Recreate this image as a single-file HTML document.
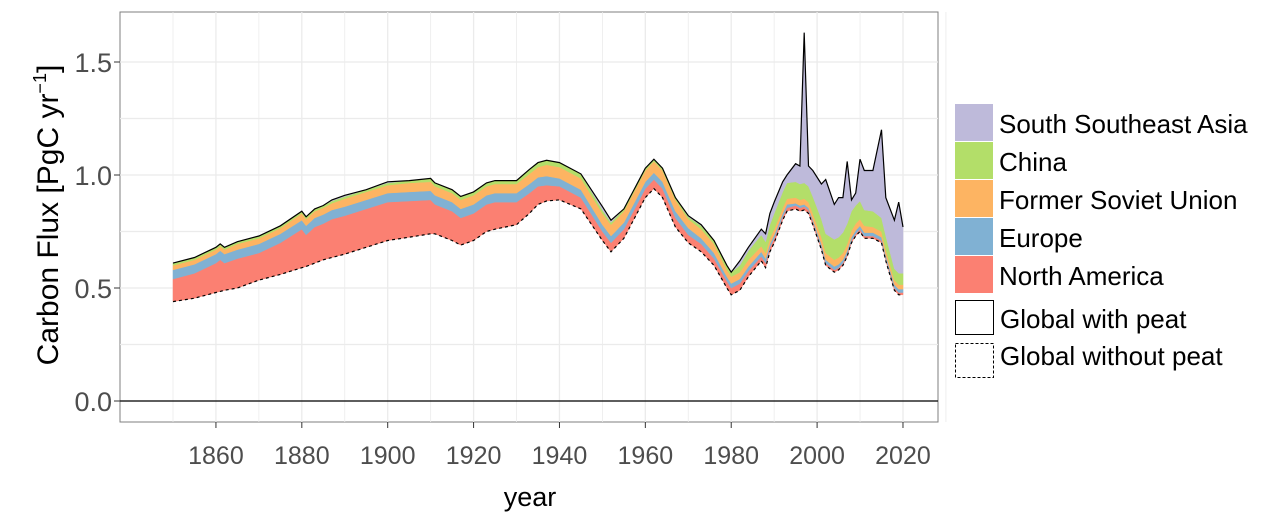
<!DOCTYPE html>
<html><head><meta charset="utf-8"><style>
body{margin:0;background:#fff;}
svg{display:block;font-family:"Liberation Sans",sans-serif;}
</style></head><body>
<svg id="chart" width="1285" height="525">
<rect x="120" y="12" width="818" height="410" fill="#fff" stroke="#7f7f7f"/>
<g id="grid"></g><g id="areas"></g><g id="lines"></g><g id="axes"></g>
<text x="530" y="506" font-size="27" text-anchor="middle" fill="#000">year</text>
<text transform="translate(58,215) rotate(-90)" font-size="30" text-anchor="middle" fill="#000">Carbon Flux [PgC yr<tspan dy="-12" font-size="18">−1</tspan><tspan dy="12">]</tspan></text>
<g id="legend"></g>
</svg>
<script>
const years=[1850,1855,1860,1861,1862,1865,1870,1875,1880,1881,1883,1885,1887,1890,1895,1900,1905,1910,1911,1915,1917,1920,1923,1925,1930,1933,1935,1937,1940,1945,1950,1952,1955,1960,1962,1964,1967,1970,1973,1976,1979,1980,1982,1984,1987,1988,1989,1990,1992,1993,1995,1996,1997,1998,1999,2001,2002,2004,2005,2006,2007,2008,2009,2010,2011,2013,2015,2016,2018,2019,2020];
const globalNoPeat=[.44,.455,.48,.485,.49,.50,.535,.56,.59,.595,.61,.625,.635,.65,.68,.71,.725,.74,.74,.71,.69,.71,.75,.76,.78,.83,.87,.885,.89,.85,.71,.66,.72,.90,.94,.90,.77,.70,.66,.60,.50,.47,.49,.55,.62,.59,.66,.70,.80,.84,.85,.84,.845,.83,.78,.67,.60,.57,.58,.60,.64,.70,.73,.75,.72,.72,.70,.62,.49,.47,.47];
const northAmerica=[.10,.11,.13,.14,.12,.13,.12,.14,.17,.14,.16,.16,.17,.17,.17,.17,.16,.15,.13,.13,.12,.12,.12,.12,.10,.09,.08,.07,.06,.05,.04,.04,.04,.04,.04,.04,.04,.035,.035,.03,.03,.03,.03,.025,.02,.02,.02,.02,.015,.015,.015,.015,.015,.015,.015,.01,.01,.01,.01,.01,.01,.01,.01,.01,.01,.01,.01,.01,.01,.01,.01];
const europe=[.04,.04,.04,.04,.04,.04,.04,.04,.04,.04,.04,.04,.04,.04,.04,.04,.04,.04,.04,.04,.04,.04,.04,.04,.04,.04,.04,.04,.035,.035,.03,.03,.03,.03,.03,.03,.03,.03,.025,.025,.02,.02,.02,.02,.02,.02,.015,.015,.015,.015,.01,.01,.01,.01,.01,.015,.015,.015,.015,.015,.015,.015,.015,.015,.015,.015,.015,.015,.015,.015,.015];
const formerSovietUnion=[.02,.02,.02,.02,.02,.025,.025,.025,.03,.03,.03,.03,.03,.035,.035,.035,.04,.04,.04,.04,.04,.04,.04,.04,.04,.045,.045,.05,.05,.05,.05,.05,.05,.05,.05,.05,.05,.04,.04,.04,.03,.03,.03,.03,.025,.025,.025,.025,.025,.025,.025,.025,.025,.025,.025,.03,.03,.03,.03,.03,.03,.03,.03,.03,.03,.025,.025,.025,.02,.02,.02];
const china=[.01,.01,.01,.01,.01,.01,.01,.01,.01,.01,.01,.01,.01,.01,.01,.01,.01,.015,.015,.015,.015,.015,.015,.015,.015,.02,.02,.02,.02,.02,.015,.01,.01,.01,.01,.01,.01,.01,.015,.015,.02,.02,.03,.04,.05,.05,.06,.07,.07,.07,.07,.07,.07,.07,.075,.08,.085,.09,.09,.09,.09,.085,.08,.08,.07,.07,.06,.06,.05,.05,.05];
const globalWithPeat=[.60,.62,.67,.69,.66,.70,.71,.75,.83,.79,.85,.86,.89,.91,.93,.97,.97,.975,.93,.91,.88,.90,.94,.93,.95,1.0,1.03,1.045,1.04,.99,.86,.80,.84,1.02,1.055,1.03,.90,.82,.78,.70,.60,.57,.62,.68,.76,.74,.83,.88,.97,1.00,1.05,1.04,1.63,1.04,1.02,.96,.98,.87,.90,.90,1.06,.89,.92,1.07,1.02,1.02,1.20,.90,.80,.88,.77];
const xTicks=[1860,1880,1900,1920,1940,1960,1980,2000,2020];
const yTicks=[0,0.5,1.0,1.5];
const yTickLabels=["0.0","0.5","1.0","1.5"];
const legendLabels=["South Southeast Asia","China","Former Soviet Union","Europe","North America"];
const NS="http://www.w3.org/2000/svg";
const X=y=>173+(y-1850)*4.294;
const Y=v=>401-v*226;
function mk(tag,attrs,parent){const e=document.createElementNS(NS,tag);for(const k in attrs)e.setAttribute(k,attrs[k]);parent.appendChild(e);return e;}
const grid=document.getElementById('grid');
for(let yr=1850;yr<=2030;yr+=10){const g=mk('line',{x1:X(yr),x2:X(yr),y1:12,y2:422,stroke:'#ebebeb','stroke-width':yr%20===0?1.3:0.8},grid);

}
for(let v=-0.0;v<=1.75;v+=0.25){if(Y(v)<12)continue;const g=mk('line',{x1:120,x2:938,y1:Y(v),y2:Y(v),stroke:'#ebebeb','stroke-width':1.2},grid);

}
const layers=[northAmerica,europe,formerSovietUnion,china];
const colors=['#fb8072','#80b1d3','#fdb462','#b3de69','#bebada'];
const names=['area-north-america','area-europe','area-former-soviet-union','area-china','area-south-southeast-asia'];
let lower=globalNoPeat.slice();
const stacks=[];
layers.forEach(l=>{const up=lower.map((b,i)=>b+l[i]);stacks.push([lower,up]);lower=up;});
const ssea=globalWithPeat.map((t,i)=>Math.max(0,t-lower[i]));
const topLine=lower.map((b,i)=>b+ssea[i]);
stacks.push([lower,topLine]);
const areas=document.getElementById('areas');
stacks.forEach(([lo,up],k)=>{
 let d='M'+years.map((yr,i)=>X(yr).toFixed(1)+','+Y(up[i]).toFixed(1)).join('L');
 for(let i=years.length-1;i>=0;i--)d+='L'+X(years[i]).toFixed(1)+','+Y(lo[i]).toFixed(1);
 const p=mk('path',{d:d+'Z',fill:colors[k],stroke:colors[k],'stroke-width':0.5},areas);
 
 
});
const lines=document.getElementById('lines');
const pl=arr=>'M'+years.map((yr,i)=>X(yr).toFixed(1)+','+Y(arr[i]).toFixed(1)).join('L');
const l1=mk('path',{d:pl(topLine),fill:'none',stroke:'#000','stroke-width':1.2},lines);


const l2=mk('path',{d:pl(globalNoPeat),fill:'none',stroke:'#000','stroke-width':1.2,'stroke-dasharray':'3,3'},lines);


const axes=document.getElementById('axes');
const z=mk('line',{x1:120,x2:938,y1:Y(0),y2:Y(0),stroke:'#000','stroke-width':1.2},axes);


xTicks.forEach(t=>{const tk=mk('line',{x1:X(t),x2:X(t),y1:422,y2:428,stroke:'#333'},axes);


const tx=mk('text',{x:X(t),y:464,'font-size':25,'text-anchor':'middle',fill:'#4d4d4d'},axes);tx.textContent=t;

});
yTicks.forEach((t,i)=>{const tk=mk('line',{x1:114,x2:120,y1:Y(t),y2:Y(t),stroke:'#333'},axes);


const tx=mk('text',{x:112,y:Y(t)+10,'font-size':27,'text-anchor':'end',fill:'#4d4d4d'},axes);tx.textContent=yTickLabels[i];

});
const lg=document.getElementById('legend');
const legColors=['#bebada','#b3de69','#fdb462','#80b1d3','#fb8072'];
legendLabels.forEach((lab,i)=>{const y0=104+i*38;
const r=mk('rect',{x:955,y:y0,width:38,height:37,fill:legColors[i]},lg);


const t=mk('text',{x:999,y:y0+29,'font-size':26,fill:'#000'},lg);t.textContent=lab;

});
const b1=mk('rect',{x:955.5,y:300.5,width:38,height:34,fill:'#fff',stroke:'#000'},lg);


const t1=mk('text',{x:1000,y:328,'font-size':26,fill:'#000'},lg);t1.textContent='Global with peat';


const b2=mk('rect',{x:955.5,y:343.5,width:38,height:34,fill:'#fff',stroke:'#000','stroke-dasharray':'3,2'},lg);


const t2=mk('text',{x:1000,y:365,'font-size':26,fill:'#000'},lg);t2.textContent='Global without peat';


</script>
</body></html>
